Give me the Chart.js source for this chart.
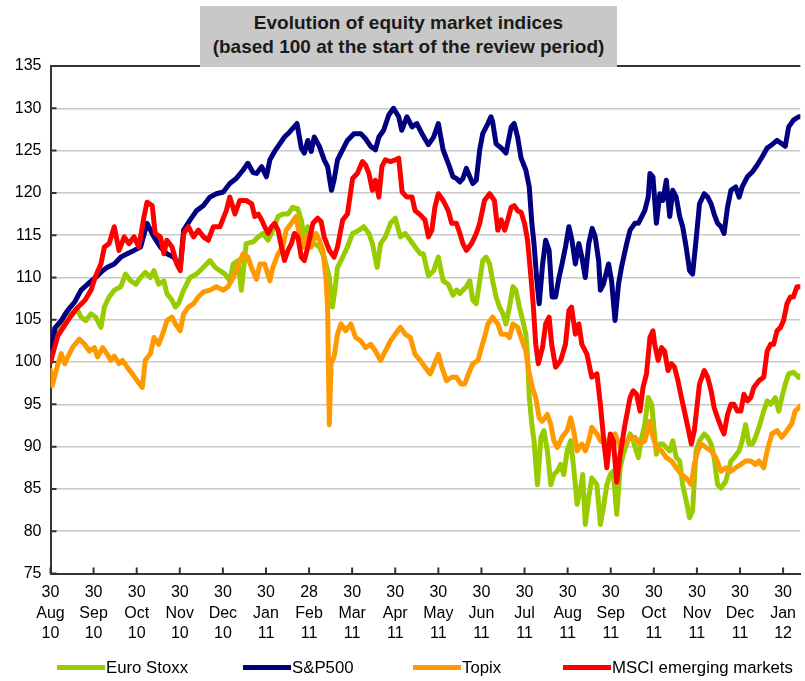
<!DOCTYPE html>
<html>
<head>
<meta charset="utf-8">
<script src="https://cdn.jsdelivr.net/npm/chart.js@4.4.1/dist/chart.umd.min.js"></script>
<style>
  html, body { margin: 0; padding: 0; background: #fff; overflow: hidden; }
  #wrap { position: relative; width: 805px; height: 681px; font-family: "Liberation Sans", Arial, sans-serif; }
  #c { position: absolute; left: 0; top: 0; }
  #title { position: absolute; left: 200px; top: 6px; width: 417px; height: 61px; background: #c8c8c8;
           text-align: center; font-weight: bold; font-size: 19px; line-height: 24px; color: #1a1a1a;
           box-sizing: border-box; padding-top: 5px; }
  .lg { position: absolute; top: 658px; font-size: 16.8px; line-height: 20px; color: #000; white-space: nowrap; }
  .lg span.sw { display: inline-block; width: 48px; height: 5px; vertical-align: middle; margin-right: 1px; position: relative; top: -1px; }
</style>
</head>
<body>
<div id="wrap">
  <canvas id="c" width="805" height="681"></canvas>
  <div id="title">Evolution of equity market indices<br>(based 100 at the start of the review period)</div>
  <div class="lg" style="left:57px"><span class="sw" style="background:#99cc00"></span>Euro Stoxx</div>
  <div class="lg" style="left:243px"><span class="sw" style="background:#000080"></span>S&amp;P500</div>
  <div class="lg" style="left:413px"><span class="sw" style="background:#ff9900"></span>Topix</div>
  <div class="lg" style="left:563px"><span class="sw" style="background:#ff0000"></span>MSCI emerging markets</div>
</div>
<script>
// Each observation: [months since 30 Aug 2010, index level (100 = start)]
const euroStoxx = [[0,100],[0.1,102.5],[0.25,104.5],[0.33,105.7],[0.48,105.7],[0.63,106.1],[0.71,105.3],[0.82,104.9],[0.94,105.7],[1.05,105.3],[1.17,104.1],[1.25,106.5],[1.36,107.7],[1.48,108.5],[1.63,108.9],[1.74,110.4],[1.86,109.6],[1.98,109.2],[2.09,110],[2.2,110.6],[2.32,110],[2.4,110.8],[2.51,109.2],[2.63,109.6],[2.7,108.1],[2.82,107.3],[2.9,106.5],[2.97,106.9],[3.09,108.5],[3.24,110],[3.39,110.4],[3.55,111.2],[3.7,112],[3.82,111.2],[3.93,110.8],[4.05,110.4],[4.16,109.6],[4.24,111.6],[4.35,112],[4.43,108.5],[4.54,114],[4.7,114.2],[4.82,114.8],[4.93,115.2],[5.05,114.4],[5.16,115.6],[5.28,117.2],[5.39,117.5],[5.51,117.5],[5.62,118.3],[5.74,118.1],[5.82,116.8],[5.89,114.4],[5.97,116],[6.05,114.4],[6.12,114],[6.24,113.6],[6.35,112.4],[6.47,110],[6.54,106.5],[6.6,108.5],[6.66,111.2],[6.78,112.4],[6.89,113.6],[7.01,115.2],[7.16,115.6],[7.27,116],[7.39,115.2],[7.47,114],[7.58,111.2],[7.66,114],[7.77,114.8],[7.89,116.4],[8,117],[8.12,114.8],[8.23,115.2],[8.35,114.4],[8.46,113.6],[8.58,112.8],[8.65,112.8],[8.77,110.2],[8.89,110.8],[9,112.4],[9.11,109.6],[9.23,109.2],[9.34,107.9],[9.42,108.5],[9.5,108.1],[9.57,108.5],[9.65,108.9],[9.73,109.6],[9.8,107.3],[9.88,106.9],[9.96,109.6],[10.03,112],[10.11,112.4],[10.19,111.6],[10.26,109.6],[10.34,107.7],[10.42,106.5],[10.5,105.7],[10.57,104.5],[10.65,106.5],[10.73,108.9],[10.8,108.5],[10.88,106.5],[10.96,104.9],[11.03,103.3],[11.07,100.6],[11.11,95.8],[11.17,92.6],[11.22,90.7],[11.3,85.5],[11.38,91.1],[11.45,91.9],[11.53,89.5],[11.61,85.5],[11.68,86.7],[11.76,87.1],[11.84,87.9],[11.91,86.7],[11.99,89.5],[12.07,90.7],[12.14,87.5],[12.22,83.2],[12.3,85.1],[12.35,86.7],[12.41,80.8],[12.49,84],[12.56,86.3],[12.68,85.5],[12.76,80.8],[12.83,82.8],[12.91,85.5],[12.99,86.7],[13.06,87.1],[13.14,82],[13.22,87.5],[13.29,89.1],[13.37,90.3],[13.45,91.5],[13.52,90.7],[13.64,88.7],[13.72,91.1],[13.79,92.6],[13.87,95.8],[13.95,95],[14.06,89.1],[14.14,90.3],[14.21,90.3],[14.29,89.9],[14.37,89.5],[14.44,90.7],[14.52,88.7],[14.6,88.3],[14.67,85.5],[14.75,83.6],[14.83,81.6],[14.9,82.4],[14.98,89.5],[15.06,90.7],[15.17,91.5],[15.25,91.1],[15.33,90.3],[15.4,88.7],[15.48,85.5],[15.56,85.1],[15.67,85.9],[15.79,88.3],[15.86,88.7],[15.98,89.5],[16.05,90.7],[16.13,92.6],[16.21,90.3],[16.29,90.3],[16.36,91.1],[16.44,92.3],[16.55,94.2],[16.63,95.4],[16.71,95],[16.82,95.8],[16.9,94.2],[16.97,95.8],[17.05,97.4],[17.13,98.6],[17.24,98.8],[17.36,98.2],[17.4,98.4]];

const sp500 = [[0,100],[0.1,104],[0.25,104.9],[0.4,106.1],[0.56,107.1],[0.71,108.5],[0.86,109.2],[1.09,110.2],[1.21,110.8],[1.32,111.2],[1.48,111.6],[1.63,112.4],[1.78,112.8],[1.94,113.2],[2.09,113.6],[2.24,116.4],[2.4,114.8],[2.55,113.6],[2.7,112.8],[2.86,112.4],[3.01,111.2],[3.09,115.6],[3.24,116.8],[3.39,117.9],[3.55,118.5],[3.7,119.5],[3.85,119.9],[4.01,120.1],[4.16,121.1],[4.31,121.7],[4.47,122.7],[4.58,123.5],[4.7,122.4],[4.78,122.3],[4.9,123.1],[5.01,121.9],[5.09,123.9],[5.2,124.9],[5.32,125.8],[5.43,126.6],[5.55,127.2],[5.72,128.2],[5.82,125.3],[5.89,124.7],[5.97,126.2],[6.05,124.9],[6.12,126.6],[6.24,125.5],[6.35,123.9],[6.43,123.1],[6.52,120.3],[6.58,121.5],[6.66,123.9],[6.78,125.1],[6.89,126.2],[7.04,127],[7.2,127],[7.31,126.4],[7.43,125.5],[7.54,125.1],[7.62,126.6],[7.73,127.4],[7.85,129.2],[7.96,130],[8.08,129],[8.15,127.4],[8.27,129],[8.39,127.8],[8.5,128.2],[8.62,127],[8.77,125.7],[8.89,126.6],[9,128.2],[9.11,125.1],[9.23,123.5],[9.34,121.9],[9.42,121.7],[9.5,121.3],[9.57,121.7],[9.65,122.9],[9.73,121.9],[9.8,121.1],[9.88,121.5],[9.96,125.1],[10.03,127],[10.15,128.2],[10.22,129],[10.26,128.4],[10.34,125.8],[10.46,125.3],[10.57,124.7],[10.69,127.8],[10.76,128.2],[10.84,126.6],[10.92,124.1],[11.03,122.7],[11.11,120.7],[11.17,116.4],[11.22,114],[11.28,110],[11.34,106.9],[11.42,111.6],[11.49,114.4],[11.57,113.2],[11.64,107.7],[11.72,107.7],[11.8,110],[11.87,111.6],[11.95,113.6],[12.03,116],[12.1,114.4],[12.18,111.6],[12.26,114],[12.33,112.4],[12.41,110],[12.49,114],[12.57,115.8],[12.64,114.8],[12.72,112],[12.76,108.5],[12.83,109.2],[12.95,111.6],[13.02,109.6],[13.1,104.9],[13.18,109.2],[13.25,111.2],[13.37,114],[13.45,115.6],[13.56,116.4],[13.64,116.4],[13.72,117.2],[13.79,117.9],[13.87,119.5],[13.91,122.3],[13.98,121.9],[14.06,116.4],[14.14,119.9],[14.21,119.1],[14.29,121.5],[14.37,117.2],[14.44,120.3],[14.52,119.5],[14.6,117.2],[14.67,116],[14.75,113.6],[14.83,110.8],[14.9,110.4],[14.98,114.4],[15.06,118.7],[15.17,119.9],[15.25,119.5],[15.33,118.7],[15.4,117.5],[15.48,116.4],[15.56,116],[15.63,115.2],[15.71,118.3],[15.79,120.3],[15.9,120.7],[15.98,119.5],[16.05,120.7],[16.17,121.9],[16.29,122.5],[16.4,123.3],[16.52,124.3],[16.63,125.3],[16.74,125.7],[16.86,126.2],[16.97,125.8],[17.05,125.5],[17.13,127.8],[17.24,128.6],[17.36,129],[17.4,129]];

const topix = [[0,99],[0.04,97.2],[0.13,99],[0.25,101],[0.33,99.8],[0.4,100.6],[0.52,101.8],[0.67,102.7],[0.79,102.1],[0.9,101.3],[1.02,101.7],[1.09,100.6],[1.21,101.7],[1.32,100.9],[1.4,100.2],[1.48,100.7],[1.59,99.8],[1.67,100.2],[1.78,99.4],[1.9,98.6],[2.01,97.8],[2.13,97],[2.2,100.2],[2.32,101],[2.4,102.9],[2.51,102.1],[2.63,103.7],[2.7,104.9],[2.82,105.3],[2.9,104.5],[3.01,103.7],[3.09,105.7],[3.2,106.5],[3.32,106.9],[3.43,107.7],[3.55,108.3],[3.7,108.5],[3.85,108.9],[4.01,108.5],[4.12,108.9],[4.24,110],[4.35,111.4],[4.47,112.8],[4.58,112.4],[4.66,111.2],[4.78,109.8],[4.86,111.6],[4.97,111.6],[5.09,109.6],[5.16,111.2],[5.28,112.8],[5.39,113.6],[5.47,115.6],[5.59,116.4],[5.7,117.2],[5.78,114.8],[5.86,113.6],[5.93,114.8],[6.05,113.6],[6.16,115.2],[6.24,114.4],[6.32,113.2],[6.39,110],[6.43,106.5],[6.47,92.6],[6.51,99.8],[6.58,100.6],[6.66,103.3],[6.74,104.5],[6.85,103.7],[6.97,104.5],[7.08,102.9],[7.2,102.5],[7.31,101.7],[7.43,102.1],[7.54,101.3],[7.66,100.2],[7.77,101.3],[7.89,102.5],[8,103.3],[8.12,104.1],[8.23,103.3],[8.35,102.9],[8.46,100.9],[8.58,100.2],[8.69,99.4],[8.81,98.6],[8.88,99.4],[9,100.9],[9.08,99.4],[9.19,97.8],[9.31,98.2],[9.42,98.2],[9.53,97.4],[9.61,97.4],[9.73,99],[9.8,99.8],[9.92,100.2],[10,101.7],[10.07,102.9],[10.15,104.5],[10.26,105.3],[10.38,104.5],[10.46,103.3],[10.57,103.3],[10.65,102.9],[10.73,104.5],[10.84,104.1],[10.92,102.9],[11.03,101.3],[11.11,98.6],[11.18,97],[11.26,95.8],[11.34,93.4],[11.41,93],[11.53,93.8],[11.61,92.6],[11.68,90.7],[11.76,89.9],[11.87,91.1],[11.99,91.9],[12.07,93.4],[12.14,91.9],[12.22,89.5],[12.33,90.3],[12.41,89.5],[12.49,90.7],[12.56,92.3],[12.68,91.5],[12.76,90.7],[12.87,90.3],[12.99,91.1],[13.1,91.5],[13.22,89.9],[13.33,90.3],[13.45,91.1],[13.56,91.1],[13.68,90.3],[13.79,90.7],[13.91,93],[13.98,91.1],[14.06,89.9],[14.18,89.5],[14.29,88.7],[14.41,88.3],[14.52,87.5],[14.64,86.7],[14.75,86.3],[14.87,85.5],[14.94,87.9],[15.02,89.5],[15.1,90.3],[15.21,89.9],[15.33,89.5],[15.44,88.7],[15.56,87.1],[15.67,87.5],[15.79,87.1],[15.9,87.5],[16.02,87.9],[16.13,88.3],[16.25,88.3],[16.36,87.9],[16.44,88.3],[16.55,87.5],[16.63,89.5],[16.74,91.5],[16.86,91.9],[16.97,91.1],[17.09,91.9],[17.2,92.7],[17.28,94.2],[17.36,94.6],[17.4,94.8]];

const msciEm = [[0,100],[0.17,103.1],[0.4,104.9],[0.6,106.3],[0.8,107.3],[0.94,108.5],[1.05,110.2],[1.17,111.6],[1.25,113.6],[1.36,114],[1.48,116],[1.59,113.2],[1.71,114.8],[1.82,114],[1.94,114.8],[2.05,113.6],[2.17,117.2],[2.24,118.9],[2.36,118.5],[2.43,115.2],[2.55,114.8],[2.63,112.8],[2.7,114.4],[2.82,113.6],[2.93,111.6],[3.01,110.8],[3.09,115.2],[3.2,116],[3.32,114.8],[3.43,115.6],[3.55,114.8],[3.66,114.4],[3.78,116],[3.93,116],[4.08,117.9],[4.16,119.5],[4.28,117.5],[4.39,119.1],[4.54,119.1],[4.67,118.7],[4.74,117.2],[4.82,117.5],[4.9,116.8],[4.97,116],[5.05,115.2],[5.13,116],[5.2,116.4],[5.28,115.6],[5.36,113.6],[5.43,112],[5.51,113.2],[5.59,114],[5.66,115.2],[5.74,114.8],[5.82,112.4],[5.89,112],[5.97,113.6],[6.09,116.4],[6.2,117],[6.28,116.6],[6.35,114.8],[6.47,113.2],[6.58,112.4],[6.66,113.6],[6.78,116.8],[6.89,117.5],[7.01,121.7],[7.12,122.3],[7.24,123.7],[7.31,123.3],[7.39,122.3],[7.47,120.3],[7.54,121.5],[7.62,119.5],[7.69,123.1],[7.77,123.9],[7.89,123.7],[8,123.9],[8.08,124.1],[8.16,120.1],[8.27,119.5],[8.39,119.5],[8.46,117.9],[8.58,117.4],[8.69,116.8],[8.77,114.8],[8.85,115.6],[8.92,118.3],[9,119.9],[9.11,119.1],[9.23,117.9],[9.31,116.4],[9.42,116.4],[9.5,115.2],[9.57,114],[9.65,113.2],[9.77,114],[9.88,115.2],[9.96,116.4],[10.07,119.1],[10.19,119.9],[10.3,119.1],[10.38,115.6],[10.46,116.8],[10.54,115.6],[10.61,116.8],[10.69,118.3],[10.76,118.5],[10.84,117.9],[10.92,117.7],[11,116.4],[11.07,114.4],[11.15,110],[11.2,106.9],[11.26,102.1],[11.32,99.8],[11.42,101.8],[11.49,104.5],[11.57,105.3],[11.63,102.1],[11.72,99.4],[11.84,100.2],[11.95,102.1],[12.03,106.1],[12.09,106.5],[12.18,103.3],[12.26,104.5],[12.33,102.1],[12.45,100.9],[12.56,98.2],[12.68,98.6],[12.76,95],[12.84,90.7],[12.91,87.5],[12.99,91.5],[13.06,90.7],[13.14,85.8],[13.22,89.1],[13.33,92.6],[13.45,95.8],[13.52,96.6],[13.6,96.2],[13.68,94.2],[13.75,97],[13.83,98.6],[13.91,102.9],[13.98,103.7],[14.02,102.1],[14.1,100.2],[14.18,101.7],[14.25,101.3],[14.33,99],[14.41,99.8],[14.48,99.4],[14.56,97.8],[14.64,95.8],[14.71,94.2],[14.79,92.3],[14.87,90.3],[14.94,91.9],[15.06,97.4],[15.17,99],[15.25,98.2],[15.33,96.6],[15.4,94.6],[15.48,93.4],[15.56,92.3],[15.63,91.5],[15.71,93.8],[15.79,95],[15.86,95],[15.94,94.2],[16.02,94.2],[16.09,96.2],[16.17,95.4],[16.25,95.8],[16.32,97],[16.44,97.8],[16.55,98.2],[16.63,101.3],[16.71,102.1],[16.78,102.1],[16.86,103.7],[16.94,104.1],[17.01,104.9],[17.09,106.9],[17.17,107.7],[17.24,107.7],[17.32,108.9],[17.4,108.9]];

const tickDays   = ['30','30','30','30','30','30','28','30','30','30','30','30','30','30','30','30','30','30'];
const tickMonths = ['Aug','Sep','Oct','Nov','Dec','Jan','Feb','Mar','Apr','May','Jun','Jul','Aug','Sep','Oct','Nov','Dec','Jan'];
const tickYears  = ['10','10','10','10','10','11','11','11','11','11','11','11','11','11','11','11','11','12'];

const seriesNames = ['Euro Stoxx', 'S&P500', 'Topix', 'MSCI emerging markets'];
const seriesColors = ['#99cc00', '#000080', '#ff9900', '#ff0000'];
const seriesValues = [euroStoxx, sp500, topix, msciEm];
const seriesOrder = [4, 3, 2, 1];

const datasets = seriesValues.map((vals, k) => ({
  label: seriesNames[k],
  data: vals.map(([x, y]) => ({ x, y })),
  borderColor: seriesColors[k],
  backgroundColor: seriesColors[k],
  borderWidth: 5,
  pointRadius: 0,
  tension: 0,
  borderJoinStyle: 'round',
  borderCapStyle: 'round',
  order: seriesOrder[k]
}));

const frame = {
  id: 'frame',
  beforeDatasetsDraw(chart) {
    const { ctx, chartArea: a, scales: { x, y } } = chart;
    ctx.save();
    ctx.strokeStyle = '#333';
    ctx.lineWidth = 2;
    ctx.beginPath();
    ctx.moveTo(a.left, a.top); ctx.lineTo(a.right, a.top);
    y.ticks.forEach(t => { const py = y.getPixelForValue(t.value); ctx.moveTo(a.left, py); ctx.lineTo(a.left + 6, py); });
    x.ticks.forEach(t => { const px = x.getPixelForValue(t.value); ctx.moveTo(px, a.bottom); ctx.lineTo(px, a.bottom - 6); });
    ctx.stroke();
    ctx.restore();
  }
};

const FONT = '"Liberation Sans", Arial, sans-serif';

new Chart(document.getElementById('c'), {
  type: 'line',
  data: { datasets },
  options: {
    responsive: false,
    animation: false,
    devicePixelRatio: 1,
    layout: { padding: { top: 66, left: 0, right: 0, bottom: 0 } },
    plugins: { legend: { display: false }, title: { display: false }, tooltip: { enabled: false } },
    scales: {
      x: {
        type: 'linear',
        min: 0,
        max: 17.4,
        afterFit: s => { s.height = 107.5; },
        grid: { display: false, drawTicks: false },
        border: { display: true, color: '#333', width: 2 },
        ticks: {
          stepSize: 1,
          includeBounds: false,
          autoSkip: false,
          maxRotation: 0,
          minRotation: 0,
          padding: 9,
          color: '#000',
          font: { family: FONT, size: 16, lineHeight: 1.28 },
          callback: (v) => {
            const i = Math.round(v);
            if (Math.abs(v - i) > 1e-6 || i < 0 || i >= tickMonths.length) return '';
            return [tickDays[i], tickMonths[i], tickYears[i]];
          }
        }
      },
      y: {
        min: 75,
        max: 135,
        afterFit: s => { s.width = 50.5; },
        grid: { color: '#c8c8c8', lineWidth: 1.5, drawTicks: false },
        border: { display: true, color: '#333', width: 2 },
        ticks: { stepSize: 5, padding: 9, color: '#000', font: { family: FONT, size: 16 } }
      }
    }
  },
  plugins: [frame]
});
</script>
</body>
</html>
